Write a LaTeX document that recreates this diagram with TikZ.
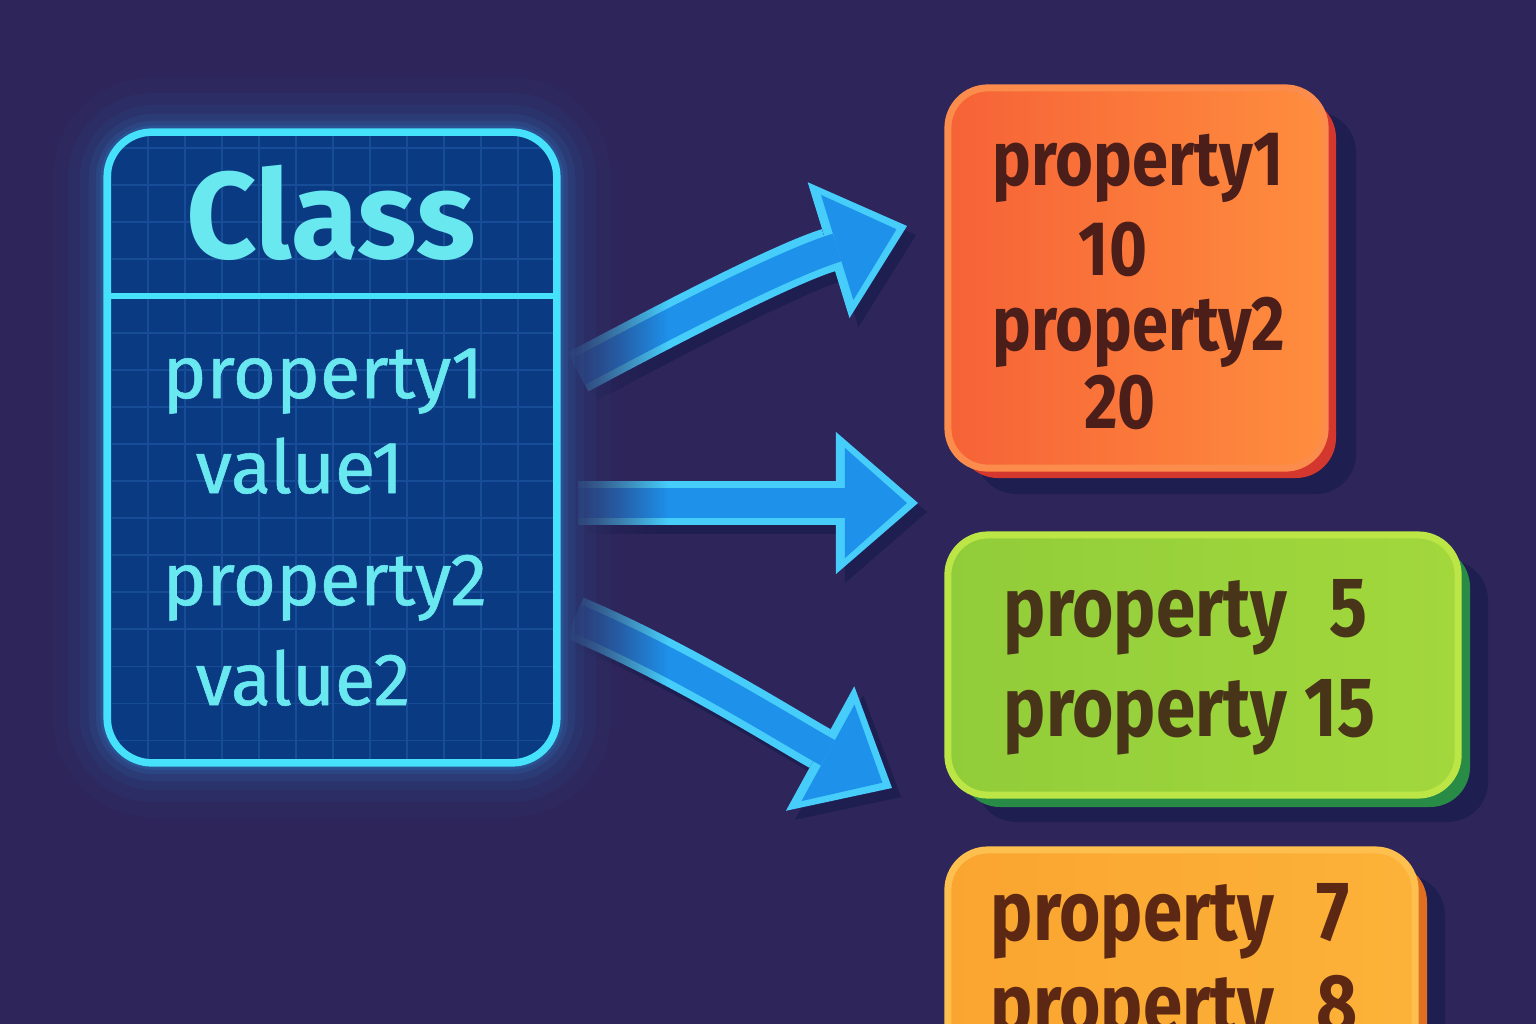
\documentclass[tikz,border=0pt]{standalone}
\usepackage{fontspec}
\setmainfont{Fira Sans}
\newfontfamily\clsfont[FakeBold=0.8]{Fira Sans}
\newfontfamily\cardfont[FakeStretch=0.84]{Fira Sans}
\usepackage{xcolor}
\usetikzlibrary{arrows.meta}
\usetikzlibrary{fadings}

\definecolor{bgpurple}{RGB}{46,38,90}
\definecolor{clsfill}{RGB}{10,58,130}
\definecolor{gridblue}{RGB}{40,100,175}
\definecolor{cyanline}{RGB}{70,225,250}
\definecolor{cyantext}{RGB}{105,232,240}
\definecolor{glowblue}{RGB}{25,80,190}
\definecolor{arrowrim}{RGB}{70,205,250}
\definecolor{arrowfill}{RGB}{30,145,235}
\definecolor{shadowc}{RGB}{30,30,80}
\definecolor{redface}{RGB}{246,98,55}
\definecolor{redface2}{RGB}{255,142,62}
\definecolor{redrim}{RGB}{252,140,75}
\definecolor{redside}{RGB}{212,55,45}
\definecolor{greenface}{RGB}{145,205,58}
\definecolor{greenface2}{RGB}{162,216,60}
\definecolor{greenrim}{RGB}{188,230,70}
\definecolor{greenside}{RGB}{40,140,70}
\definecolor{yellowface}{RGB}{250,165,48}
\definecolor{yellowface2}{RGB}{252,178,56}
\definecolor{yellowrim}{RGB}{253,192,78}
\definecolor{yellowside}{RGB}{224,110,32}
\definecolor{brownA}{RGB}{75,30,26}
\definecolor{brownB}{RGB}{72,52,25}
\definecolor{brownC}{RGB}{92,40,20}

\tikzfading[name=tailfade, left color=transparent!0, right color=transparent!100]

\begin{document}
\begin{tikzpicture}[x=0.01cm, y=-0.01cm,
  clsline/.style={draw=cyanline, line width=0.075cm},
  clstext/.style={text=cyantext, font=\clsfont\fontsize{21}{25}\selectfont, anchor=base west, inner sep=0pt},
  cardtext/.style={font=\cardfont\bfseries\fontsize{24}{28}\selectfont, anchor=base west, inner sep=0pt},
  cardface/.style={rounded corners=0.4cm, line width=0.07cm},
  arrowshade/.style={draw=shadowc, line width=0.44cm, -{Triangle[length=0.82cm 0, width=1.42cm 0, line width=0pt 0]}},
  arrowout/.style={draw=arrowrim, line width=0.44cm, -{Triangle[length=0.82cm 0, width=1.42cm 0, line width=0pt 0]}},
  arrowin/.style={draw=arrowfill, line width=0.29cm, shorten >=0.11cm, -{Triangle[length=0.62cm 0, width=1.1cm 0, line width=0pt 0]}}]
  \useasboundingbox (0,0) rectangle (1536,1024);
  \fill[bgpurple] (0,0) rectangle (1536,1024);

  % arrows
  \coordinate (t1) at (578,372);
  \coordinate (h1) at (907,226);
  \coordinate (t2) at (578,503);
  \coordinate (h2) at (918,503);
  \coordinate (t3) at (575,618);
  \coordinate (h3) at (892,788);
  \begin{scope}[transform canvas={shift={(0.09cm,-0.09cm)}}]
    \draw[arrowshade] (t1) .. controls (690,312) and (790,262) .. (h1);
    \draw[arrowshade] (t2) -- (h2);
    \draw[arrowshade] (t3) .. controls (680,662) and (790,732) .. (h3);
  \end{scope}
  \draw[arrowout] (t1) .. controls (690,312) and (790,262) .. (h1);
  \draw[arrowin] (t1) .. controls (690,312) and (790,262) .. (h1);
  \draw[arrowout] (t2) -- (h2);
  \draw[arrowin] (t2) -- (h2);
  \draw[arrowout] (t3) .. controls (680,662) and (790,732) .. (h3);
  \draw[arrowin] (t3) .. controls (680,662) and (790,732) .. (h3);
  \fill[bgpurple, path fading=tailfade] (566,280) rectangle (668,720);

  % class box with glow
  \foreach \w/\o in {1.1cm/0.04,0.8cm/0.05,0.56cm/0.07,0.38cm/0.1,0.24cm/0.14,0.15cm/0.2}
    \draw[glowblue!60!cyanline, opacity=\o, line width=\w, rounded corners=0.45cm] (108,133) rectangle (556,762);
  \node[fill=clsfill, rounded corners=0.45cm, minimum width=4.48cm, minimum height=6.29cm] (cls) at (332,447.5) {};
  \begin{scope}
    \clip[rounded corners=0.45cm] (108,133) rectangle (556,762);
    \draw[gridblue, opacity=0.45, line width=0.5pt, step=0.37cm] (108,133) grid (556,762);
  \end{scope}
  \draw[clsline, rounded corners=0.45cm] (cls.south west) rectangle (cls.north east);
  \draw[clsline, line width=0.06cm] (cls.west |- 0,296) -- (cls.east |- 0,296);

  \node[text=cyantext, font=\bfseries\fontsize{35}{40}\selectfont, anchor=base, inner sep=0pt] (title) at (331,258) {Class};
  \node[clstext] (p1) at (162,398) {property1};
  \node[clstext] (v1) at (195,493) {value1};
  \node[clstext] (p2) at (162,605) {property2};
  \node[clstext] (v2) at (195,705) {value2};

  % object cards
  \fill[shadowc, rounded corners=0.4cm] (976,112) rectangle (1356,494);
  \fill[redside, rounded corners=0.4cm] (958,98) rectangle (1336,478);
  \node[cardface, draw=redrim, left color=redface, right color=redface2, minimum width=3.77cm, minimum height=3.8cm] (objA) at (1136.5,278) {};
  \fill[shadowc, rounded corners=0.4cm] (976,560) rectangle (1488,822);
  \fill[greenside, rounded corners=0.4cm] (960,547) rectangle (1470,807);
  \node[cardface, draw=greenrim, left color=greenface, right color=greenface2, minimum width=5.1cm, minimum height=2.6cm] (objB) at (1203,665) {};
  \fill[shadowc, rounded corners=0.4cm] (976,875) rectangle (1445,1130);
  \fill[yellowside, rounded corners=0.4cm] (960,862) rectangle (1427,1120);
  \node[cardface, draw=yellowrim, left color=yellowface, right color=yellowface2, minimum width=4.67cm, minimum height=2.6cm] (objC) at (1181.5,980) {};

  \node[cardtext, text=brownA, anchor=base, font=\cardfont\bfseries\fontsize{22}{26}\selectfont] (a1) at (1138,185) {property1};
  \node[cardtext, text=brownA, anchor=base, font=\cardfont\bfseries\fontsize{22}{26}\selectfont] (a2) at (1113,275) {10};
  \node[cardtext, text=brownA, anchor=base, font=\cardfont\bfseries\fontsize{22}{26}\selectfont] (a3) at (1139,350) {property2};
  \node[cardtext, text=brownA, anchor=base, font=\cardfont\bfseries\fontsize{22}{26}\selectfont] (a4) at (1120,428) {20};
  \node[cardtext, text=brownB] (b1) at (1003,636) {property\hspace{0.5em}5};
  \node[cardtext, text=brownB] (b2) at (1003,736) {property 15};
  \node[cardtext, text=brownC] (c1) at (990,940) {property\hspace{0.5em}7};
  \node[cardtext, text=brownC] (c2) at (990,1033) {property\hspace{0.5em}8};
\end{tikzpicture}
\end{document}
